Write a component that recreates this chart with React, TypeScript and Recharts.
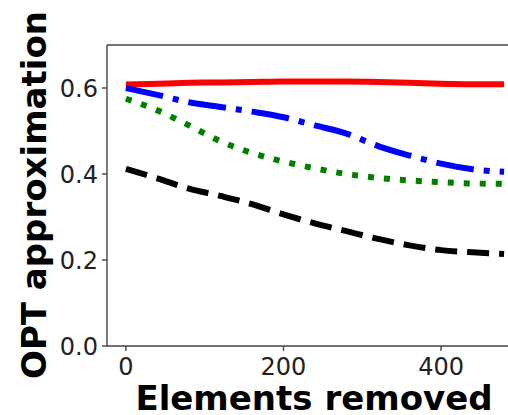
import React from 'react';
import { LineChart, Line, XAxis, YAxis, ReferenceLine, Label } from 'recharts';

const xValues = [0, 40, 80, 120, 160, 200, 240, 280, 320, 360, 400, 440, 480];
const redSeries = [0.608, 0.610, 0.612, 0.613, 0.614, 0.615, 0.615, 0.615, 0.614, 0.612, 0.610, 0.609, 0.609];
const blueSeries = [0.600, 0.584, 0.567, 0.556, 0.545, 0.532, 0.513, 0.494, 0.465, 0.443, 0.424, 0.411, 0.405];
const greenSeries = [0.575, 0.548, 0.513, 0.476, 0.449, 0.429, 0.413, 0.400, 0.391, 0.385, 0.381, 0.378, 0.377];
const blackSeries = [0.412, 0.390, 0.366, 0.349, 0.330, 0.306, 0.285, 0.267, 0.249, 0.234, 0.223, 0.218, 0.214];
const xTicks = [0, 200, 400];
const yTicks = [0, 0.2, 0.4, 0.6];
const xLabel = 'Elements removed';
const yLabel = 'OPT approximation';

const data = xValues.map((x, i) => ({
  x,
  red: redSeries[i],
  blue: blueSeries[i],
  green: greenSeries[i],
  black: blackSeries[i],
}));

const FONT = '"DejaVu Sans", sans-serif';
const AXIS = '#444';

export default function App() {
  return (
    <div style={{ position: 'absolute', left: 0, top: 0, width: 508, height: 415, overflow: 'hidden', background: '#fff' }}>
      <LineChart width={530} height={415} data={data} margin={{ top: 45, right: 7, bottom: 0, left: 47 }}>
        <XAxis
          dataKey="x"
          type="number"
          domain={[-24, 504]}
          ticks={xTicks}
          height={69}
          tickSize={5}
          tickMargin={7}
          stroke={AXIS}
          strokeWidth={1.4}
          tick={{ fill: '#222', fontSize: 24, fontFamily: FONT }}
          allowDataOverflow
        >
          <Label
            content={(props: any) => {
              const vb = props.viewBox || {};
              return (
                <text x={vb.x + vb.width / 2 - 1} y={410} textAnchor="middle" fontFamily={FONT} fontWeight="bold" fontSize={34} fill="#000">
                  {xLabel}
                </text>
              );
            }}
          />
        </XAxis>
        <YAxis
          type="number"
          domain={[0, 0.7]}
          ticks={yTicks}
          width={60}
          tickSize={5}
          tickMargin={4}
          stroke={AXIS}
          strokeWidth={1.4}
          tickFormatter={(v: number) => v.toFixed(1)}
          tick={{ fill: '#222', fontSize: 24, fontFamily: FONT }}
          allowDataOverflow
        >
          <Label
            content={() => {
              const cy = 195;
              return (
                <text x={46} y={cy} transform={`rotate(-90, 46, ${cy})`} textAnchor="middle" fontFamily={FONT} fontWeight="bold" fontSize={34} fill="#000">
                  {yLabel}
                </text>
              );
            }}
          />
        </YAxis>
        <ReferenceLine y={0.7} stroke={AXIS} strokeWidth={1.4} />
        <ReferenceLine x={504} stroke={AXIS} strokeWidth={1.4} />
        <Line type="monotone" dataKey="red" stroke="#ff0000" strokeWidth={6} dot={false} isAnimationActive={false} />
        <Line type="monotone" dataKey="blue" stroke="#0000ff" strokeWidth={6} strokeDasharray="38 10 6 10" dot={false} isAnimationActive={false} />
        <Line type="monotone" dataKey="green" stroke="#008000" strokeWidth={6} strokeDasharray="6 10" dot={false} isAnimationActive={false} />
        <Line type="monotone" dataKey="black" stroke="#000000" strokeWidth={6} strokeDasharray="22 10" dot={false} isAnimationActive={false} />
      </LineChart>
    </div>
  );
}
